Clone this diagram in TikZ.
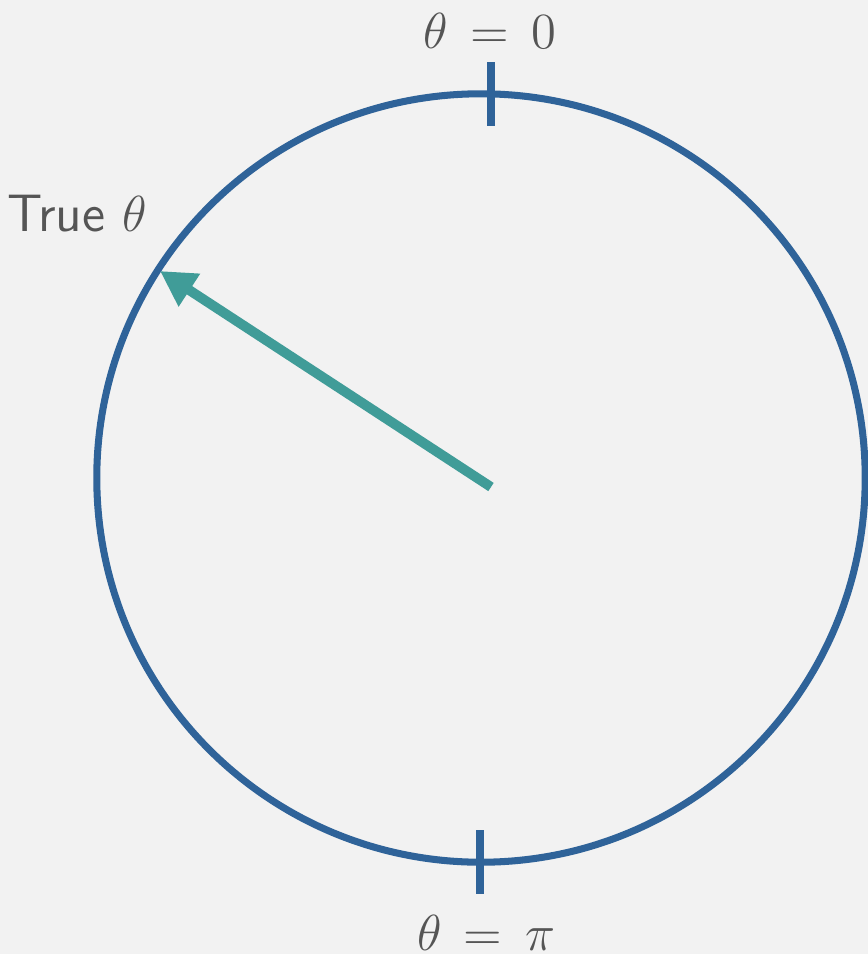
\documentclass[tikz,border=0pt]{standalone}
\usepackage{amsmath}
\usetikzlibrary{arrows.meta}
\definecolor{paper}{HTML}{F2F2F2}
\definecolor{ringblue}{HTML}{2F6399}
\definecolor{needleteal}{HTML}{409C98}
\definecolor{ink}{HTML}{555555}
\tikzset{
  ring/.style={draw=ringblue,line width=2pt},
  tick/.style={draw=ringblue,line width=2pt},
  needle/.style={-{Triangle[length=10pt,width=10.5pt]},draw=needleteal,
    fill=needleteal,line width=2.8pt},
  lbl/.style={text=ink,font=\fontsize{14.4}{17}\selectfont,inner sep=0pt}
}
\begin{document}
\begin{tikzpicture}[x=0.01cm,y=-0.01cm]
  \fill[paper] (0,0) rectangle (868,954);
  \useasboundingbox (0,0) rectangle (868,954);
  \coordinate (c) at (481,478);
  \draw[ring] (c) circle[radius=3.84cm];
  \coordinate (t0a) at (491,62);
  \coordinate (t0b) at (491,126);
  \coordinate (tpa) at (480,830);
  \coordinate (tpb) at (480,894);
  \draw[tick] (t0a) -- (t0b);
  \draw[tick] (tpa) -- (tpb);
  \node[lbl] (zero) at (490,31) {$\theta \,=\, 0$};
  \node[lbl] (pi) at (486,933) {$\theta \,=\, \pi$};
  \node[lbl,font=\fontsize{15}{18}\selectfont] (true) at (77,214) {\sffamily True $\theta$};
  \coordinate (start) at (491,487);
  \coordinate (tip) at (160,271);
  \draw[needle] (start) -- (tip);
\end{tikzpicture}
\end{document}
